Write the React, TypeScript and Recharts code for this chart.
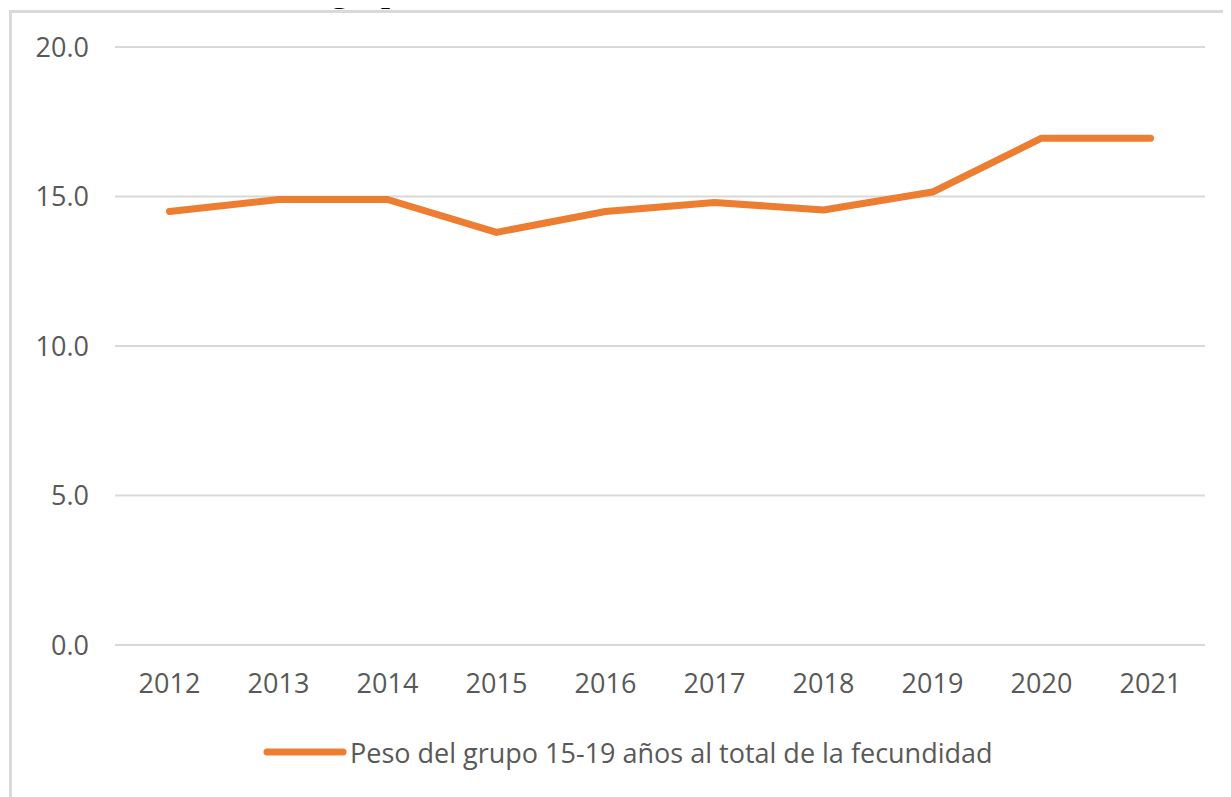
import React from 'react';
import { LineChart, Line, XAxis, YAxis, CartesianGrid, Legend } from 'recharts';

const years = ['2012', '2013', '2014', '2015', '2016', '2017', '2018', '2019', '2020', '2021'];
const peso = [14.5, 14.9, 14.9, 13.8, 14.5, 14.8, 14.55, 15.15, 16.95, 16.95];
const yTicks = [0, 5, 10, 15, 20];
const seriesName = 'Peso del grupo 15-19 años al total de la fecundidad';
const titleText = 'Peso del grupo 15-19 años al total de la fecundidad';

const data = years.map((y, i) => ({ year: y, peso: peso[i] }));

const ORANGE = '#ED7D31';
const GRID = '#D9D9D9';
const TEXT = '#595959';
const FONT = '"Open Sans", sans-serif';

const LegendContent = () => (
  <div style={{ display: 'flex', alignItems: 'center', height: 40, marginLeft: 255, fontFamily: FONT }}>
    <svg width={84} height={12} style={{ display: 'block' }}>
      <line x1={4} y1={6} x2={80} y2={6} stroke={ORANGE} strokeWidth={7} strokeLinecap="round" />
    </svg>
    <span style={{ color: TEXT, fontSize: 27, marginLeft: 3, whiteSpace: 'nowrap', letterSpacing: 0 }}>{seriesName}</span>
  </div>
);

export default function App() {
  return (
    <div style={{ position: 'relative', width: 1223, height: 789 }}>
      <div style={{ position: 'absolute', left: 0, top: 0, width: 1223, height: 789, overflow: 'hidden', background: '#fff' }}>
        <div
          style={{
            position: 'absolute',
            left: 1,
            top: 2,
            right: 0,
            bottom: 0,
            borderLeft: `3px solid ${GRID}`,
            borderTop: `3px solid ${GRID}`,
          }}
        />
        <LineChart
          width={1223}
          height={789}
          data={data}
          margin={{ top: 39, right: 26, left: 17, bottom: 52 }}
        >
          <CartesianGrid vertical={false} stroke={GRID} strokeWidth={2} />
          <XAxis
            dataKey="year"
            axisLine={false}
            tickLine={false}
            padding={{ left: 54.5, right: 54.5 }}
            height={60}
            tickMargin={23}
            tick={{ fill: TEXT, fontSize: 27, fontFamily: FONT }}
          />
          <YAxis
            domain={[0, 20]}
            ticks={yTicks}
            width={90}
            axisLine={false}
            tickLine={false}
            tickMargin={20}
            tickFormatter={(v: number) => v.toFixed(1)}
            tick={{ fill: TEXT, fontSize: 27, fontFamily: FONT }}
          />
          <Legend
            verticalAlign="bottom"
            content={<LegendContent />}
            wrapperStyle={{ top: 724, left: 0, width: 1223, height: 40 }}
          />
          <Line
            type="linear"
            dataKey="peso"
            name={seriesName}
            stroke={ORANGE}
            strokeWidth={7}
            strokeLinecap="round"
            strokeLinejoin="round"
            dot={false}
            activeDot={false}
            isAnimationActive={false}
          />
        </LineChart>
      </div>
      <div
        style={{
          position: 'absolute',
          left: 185,
          top: -39,
          fontFamily: '"Liberation Serif", "Times New Roman", serif',
          fontSize: 38,
          lineHeight: '38px',
          whiteSpace: 'nowrap',
          color: '#000',
          pointerEvents: 'none',
        }}
      >
        {titleText}
      </div>
    </div>
  );
}
